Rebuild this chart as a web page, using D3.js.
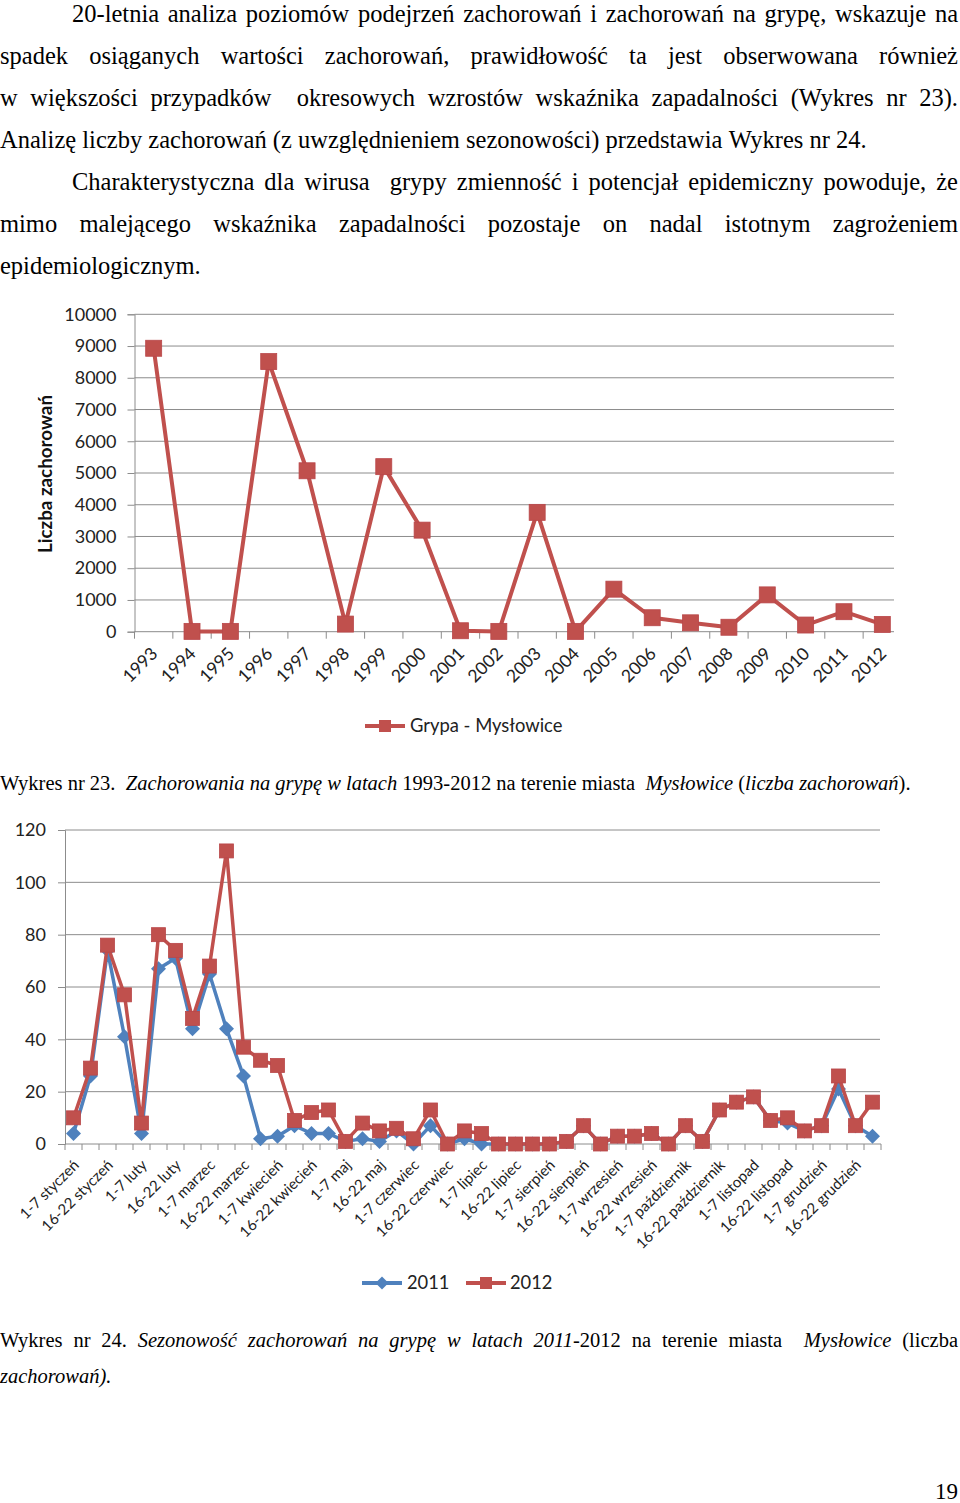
<!DOCTYPE html>
<html><head><meta charset="utf-8">
<script src="https://cdn.jsdelivr.net/npm/d3@7/dist/d3.min.js"></script>
<style>body{margin:0;background:#fff}svg{display:block}</style>
</head><body>
<svg id="page" width="960" height="1503"></svg>
<script>
// ---------- DATA ----------
const years = ["1993","1994","1995","1996","1997","1998","1999","2000","2001","2002",
               "2003","2004","2005","2006","2007","2008","2009","2010","2011","2012"];
const casesYearly = [8930, 10, 10, 8510, 5070, 240, 5200, 3200, 30, 10,
                     3760, 10, 1340, 440, 280, 140, 1160, 210, 630, 230];
const yTicksTop = [0,1000,2000,3000,4000,5000,6000,7000,8000,9000,10000];
const seriesTopName = "Grypa - Mysłowice";
const yTitleTop = "Liczba zachorowań";

const weeks = [
 "1-7 styczeń","8-15 styczeń","16-22 styczeń","23-31 styczeń",
 "1-7 luty","8-15 luty","16-22 luty","23-29 luty",
 "1-7 marzec","8-15 marzec","16-22 marzec","23-31 marzec",
 "1-7 kwiecień","8-15 kwiecień","16-22 kwiecień","23-30 kwiecień",
 "1-7 maj","8-15 maj","16-22 maj","23-31 maj",
 "1-7 czerwiec","8-15 czerwiec","16-22 czerwiec","23-30 czerwiec",
 "1-7 lipiec","8-15 lipiec","16-22 lipiec","23-31 lipiec",
 "1-7 sierpień","8-15 sierpień","16-22 sierpień","23-31 sierpień",
 "1-7 wrzesień","8-15 wrzesień","16-22 wrzesień","23-30 wrzesień",
 "1-7 październik","8-15 październik","16-22 październik","23-31 październik",
 "1-7 listopad","8-15 listopad","16-22 listopad","23-30 listopad",
 "1-7 grudzień","8-15 grudzień","16-22 grudzień","23-31 grudzień"];
const weekTickLabels = [
 "1-7 styczeń","16-22 styczeń","1-7 luty","16-22 luty","1-7 marzec","16-22 marzec",
 "1-7 kwiecień","16-22 kwiecień","1-7 maj","16-22 maj","1-7 czerwiec","16-22 czerwiec",
 "1-7 lipiec","16-22 lipiec","1-7 sierpień","16-22 sierpień","1-7 wrzesień","16-22 wrzesień",
 "1-7 październik","16-22 październik","1-7 listopad","16-22 listopad","1-7 grudzień","16-22 grudzień"];
const cases2011 = [4, 26, 74, 41, 4, 67, 71, 44, 65, 44, 26, 2, 3, 7, 4, 4,
                   1, 2, 1, 5, 0, 7, 0, 2, 0, 0, 0, 0, 0, 1, 7, 0,
                   3, 3, 4, 0, 7, 1, 13, 16, 18, 9, 8, 5, 7, 21, 7, 3];
const cases2012 = [10, 29, 76, 57, 8, 80, 74, 48, 68, 112, 37, 32, 30, 9, 12, 13,
                   1, 8, 5, 6, 2, 13, 0, 5, 4, 0, 0, 0, 0, 1, 7, 0,
                   3, 3, 4, 0, 7, 1, 13, 16, 18, 9, 10, 5, 7, 26, 7, 16];
const yTicksBottom = [0,20,40,60,80,100,120];
const seriesBottomNames = ["2011","2012"];

const paragraphLines = [
 {text:"20-letnia analiza poziomów podejrzeń zachorowań i zachorowań na grypę, wskazuje na", indent:true, justify:true},
 {text:"spadek osiąganych wartości zachorowań, prawidłowość ta jest obserwowana również", indent:false, justify:true},
 {text:"w większości przypadków  okresowych wzrostów wskaźnika zapadalności (Wykres nr 23).", indent:false, justify:true},
 {text:"Analizę liczby zachorowań (z uwzględnieniem sezonowości) przedstawia Wykres nr 24.", indent:false, justify:false},
 {text:"Charakterystyczna dla wirusa  grypy zmienność i potencjał epidemiczny powoduje, że", indent:true, justify:true},
 {text:"mimo malejącego wskaźnika zapadalności pozostaje on nadal istotnym zagrożeniem", indent:false, justify:true},
 {text:"epidemiologicznym.", indent:false, justify:false}
];
const caption1 = [["Wykres nr 23.  ",false],["Zachorowania na grypę w latach",true],[" 1993-2012 na terenie miasta  ",false],["Mysłowice",true],[" (",false],["liczba zachorowań",true],[").",false]];
const caption2a = [["Wykres nr 24. ",false],["Sezonowość zachorowań na grypę w latach 2011",true],["-2012 na terenie miasta  ",false],["Mysłowice",true],[" (liczba",false]];
const caption2b = [["zachorowań).",true]];
const pageNumber = "19";

// ---------- STYLE ----------
const RED = "#C0504D", BLUE = "#4F81BD", GRID = "#8c8c8c";
const SERIF = "'Liberation Serif','Times New Roman',serif";
const SANS = "Lato,'Open Sans','Liberation Sans',sans-serif";

const svg = d3.select("#page");
svg.append("rect").attr("width",960).attr("height",1503).attr("fill","#fff");

// ---------- TEXT LAYOUT ----------
function toWords(segs){
  const words=[[]];
  segs.forEach(([t,it])=>{
    const parts=t.split(" ");
    parts.forEach((p,i)=>{
      if(i>0) words.push([]);
      if(p.length) words[words.length-1].push([p,it]);
    });
  });
  return words;
}
function textLine(segs, x0, x1, y, justify, size){
  const g = svg.append("g").attr("font-family",SERIF).attr("font-size",size).attr("fill","#000");
  const words = toWords(segs);
  const nodes = words.map(w=>{
    const t = g.append("text").attr("y",y);
    w.forEach(([s,it])=>t.append("tspan").attr("font-style",it?"italic":"normal").text(s));
    return t;
  });
  const widths = nodes.map(n=>n.node().getComputedTextLength());
  const tmp = g.append("text").text("a a"); const tmp2 = g.append("text").text("aa");
  const sp = tmp.node().getComputedTextLength()-tmp2.node().getComputedTextLength();
  tmp.remove(); tmp2.remove();
  const total = d3.sum(widths);
  const gap = justify && words.length>1 ? (x1-x0-total)/(words.length-1) : sp;
  let x = x0;
  nodes.forEach((n,i)=>{ n.attr("x",x); x += widths[i]+gap; });
}

paragraphLines.forEach((l,i)=>{
  textLine([[l.text,false]], l.indent?72:0, 958, 22+42*i, l.justify, 24.5);
});
textLine(caption1, 0, 958, 790, false, 20.5);
textLine(caption2a, 0, 958, 1347, true, 20.5);
textLine(caption2b, 0, 958, 1383, false, 20.5);
svg.append("text").attr("x",958).attr("y",1499).attr("text-anchor","end")
  .attr("font-family",SERIF).attr("font-size",23).text(pageNumber);

// ---------- CHART 1 ----------
const xTop = d3.scaleBand().domain(years).range([134.5, 901.5]);
const yTop = d3.scaleLinear().domain([0,10000]).range([631.7, 314.3]);
const c1 = svg.append("g").attr("font-family",SANS);
c1.append("g").selectAll("line").data(yTicksTop.filter(d=>d>0)).join("line")
  .attr("x1",134.5).attr("x2",894).attr("y1",d=>yTop(d)).attr("y2",d=>yTop(d))
  .attr("stroke",GRID).attr("stroke-width",1);
const yAx1 = c1.append("g").attr("transform","translate(134.5,0)")
  .call(d3.axisLeft(yTop).tickValues(yTicksTop).tickFormat(d3.format("d")).tickSize(7).tickPadding(11));
yAx1.select(".domain").attr("stroke",GRID);
yAx1.selectAll(".tick line").attr("stroke",GRID);
yAx1.selectAll(".tick text").attr("font-size",18).attr("font-family",SANS).attr("fill","#222");
// x axis
c1.append("line").attr("x1",134.5).attr("x2",894).attr("y1",yTop(0)).attr("y2",yTop(0)).attr("stroke",GRID);
c1.append("g").selectAll("line").data(years).join("line")
  .attr("x1",d=>xTop(d)).attr("x2",d=>xTop(d)).attr("y1",yTop(0)).attr("y2",yTop(0)+7).attr("stroke",GRID);
c1.append("g").selectAll("text").data(years).join("text")
  .attr("transform",d=>`translate(${xTop(d)+xTop.bandwidth()/2+5},${yTop(0)+23}) rotate(-45)`)
  .attr("text-anchor","end").attr("font-size",17.5).attr("fill","#222").text(d=>d);
c1.append("text").attr("transform","translate(52,474) rotate(-90)").attr("text-anchor","middle")
  .attr("font-weight","bold").attr("font-size",18.8).attr("fill","#111").text(yTitleTop);
const topData = years.map((y,i)=>({k:y,v:casesYearly[i]}));
const lineTop = d3.line().x(d=>xTop(d.k)+xTop.bandwidth()/2).y(d=>yTop(d.v));
c1.append("path").datum(topData).attr("d",lineTop).attr("fill","none").attr("stroke",RED)
  .attr("stroke-width",4).attr("stroke-linejoin","round");
c1.append("g").selectAll("rect").data(topData).join("rect")
  .attr("x",d=>xTop(d.k)+xTop.bandwidth()/2-8).attr("y",d=>yTop(d.v)-8)
  .attr("width",16).attr("height",16).attr("fill",RED).attr("stroke","#b9474a").attr("stroke-width",0.8);
// legend
c1.append("line").attr("x1",365).attr("x2",405).attr("y1",726).attr("y2",726).attr("stroke",RED).attr("stroke-width",4);
c1.append("rect").attr("x",379).attr("y",720).attr("width",12).attr("height",12).attr("fill",RED);
c1.append("text").attr("x",410).attr("y",732).attr("font-size",18.4).attr("fill","#222").text(seriesTopName);

// ---------- CHART 2 ----------
const xB = d3.scaleBand().domain(weeks).range([65, 881]);
const yB = d3.scaleLinear().domain([0,120]).range([1144, 830]);
const c2 = svg.append("g").attr("font-family",SANS);
c2.append("g").selectAll("line").data(yTicksBottom.filter(d=>d>0)).join("line")
  .attr("x1",65).attr("x2",880).attr("y1",d=>yB(d)).attr("y2",d=>yB(d))
  .attr("stroke",GRID).attr("stroke-width",1);
const yAx2 = c2.append("g").attr("transform","translate(65,0)")
  .call(d3.axisLeft(yB).tickValues(yTicksBottom).tickSize(7).tickPadding(12));
yAx2.select(".domain").attr("stroke",GRID);
yAx2.selectAll(".tick line").attr("stroke",GRID);
yAx2.selectAll(".tick text").attr("font-size",18).attr("font-family",SANS).attr("fill","#222");
c2.append("line").attr("x1",65).attr("x2",881).attr("y1",yB(0)).attr("y2",yB(0)).attr("stroke",GRID);
c2.append("g").selectAll("line").data(weeks.map(w=>xB(w)).concat([881])).join("line")
  .attr("x1",d=>d).attr("x2",d=>d).attr("y1",yB(0)).attr("y2",yB(0)+6).attr("stroke",GRID);
const shown = weeks.filter((w,i)=>i%2===0);
c2.append("g").selectAll("text").data(shown).join("text")
  .attr("transform",(d,i)=>`translate(${xB(d)+xB.bandwidth()/2+6.5},${yB(0)+22}) rotate(-45)`)
  .attr("text-anchor","end").attr("font-size",15).attr("fill","#222").text((d,i)=>weekTickLabels[i]);
const d11 = weeks.map((w,i)=>({k:w,v:cases2011[i]}));
const d12 = weeks.map((w,i)=>({k:w,v:cases2012[i]}));
const lineB = d3.line().x(d=>xB(d.k)+xB.bandwidth()/2).y(d=>yB(d.v));
const diamond = r=>`M0,${-r}L${r},0L0,${r}L${-r},0Z`;
c2.append("path").datum(d11).attr("d",lineB).attr("fill","none").attr("stroke",BLUE)
  .attr("stroke-width",3.5).attr("stroke-linejoin","round");
c2.append("g").selectAll("path").data(d11).join("path")
  .attr("transform",d=>`translate(${xB(d.k)+xB.bandwidth()/2},${yB(d.v)})`)
  .attr("d",diamond(7.5)).attr("fill",BLUE);
c2.append("path").datum(d12).attr("d",lineB).attr("fill","none").attr("stroke",RED)
  .attr("stroke-width",3.5).attr("stroke-linejoin","round");
c2.append("g").selectAll("rect").data(d12).join("rect")
  .attr("x",d=>xB(d.k)+xB.bandwidth()/2-7).attr("y",d=>yB(d.v)-7)
  .attr("width",14).attr("height",14).attr("fill",RED).attr("stroke","#b9474a").attr("stroke-width",0.8);
// legend
c2.append("line").attr("x1",362).attr("x2",402).attr("y1",1283).attr("y2",1283).attr("stroke",BLUE).attr("stroke-width",4);
c2.append("path").attr("transform","translate(382,1283)").attr("d",diamond(6.5)).attr("fill",BLUE);
c2.append("text").attr("x",407).attr("y",1289).attr("font-size",18.3).attr("fill","#222").text(seriesBottomNames[0]);
c2.append("line").attr("x1",466).attr("x2",506).attr("y1",1283).attr("y2",1283).attr("stroke",RED).attr("stroke-width",4);
c2.append("rect").attr("x",480).attr("y",1277).attr("width",12).attr("height",12).attr("fill",RED);
c2.append("text").attr("x",510).attr("y",1289).attr("font-size",18.3).attr("fill","#222").text(seriesBottomNames[1]);
</script>
</body></html>
